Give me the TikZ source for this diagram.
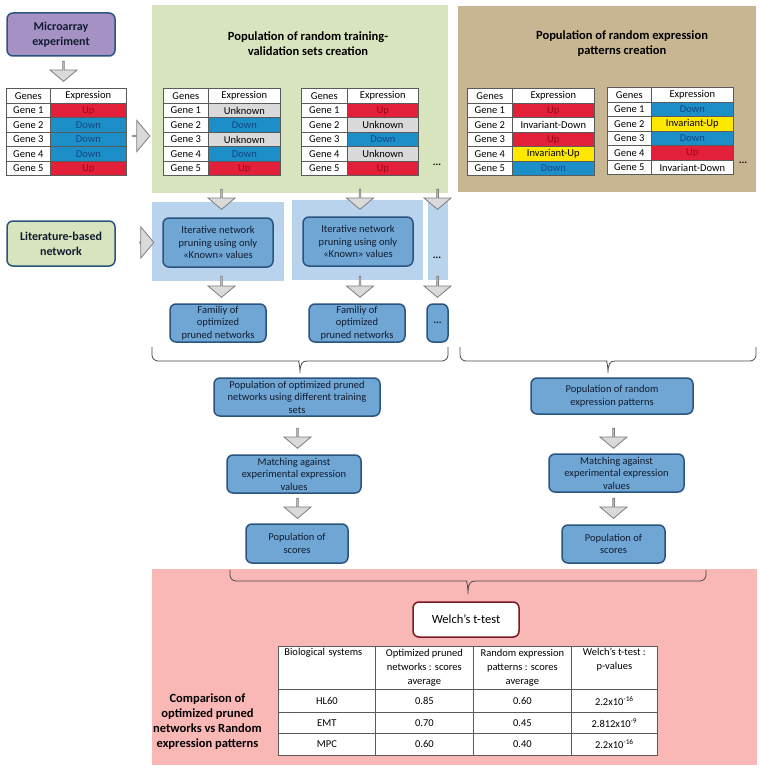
\documentclass[tikz,border=0pt]{standalone}
\usepackage{fontspec}
\setmainfont{Carlito}
\usetikzlibrary{shapes.arrows, calc}

\definecolor{boxblue}{RGB}{111,166,212}
\definecolor{boxline}{RGB}{42,84,128}
\definecolor{panelblue}{RGB}{186,211,236}
\definecolor{greenbg}{RGB}{215,228,190}
\definecolor{tanbg}{RGB}{200,181,145}
\definecolor{pinkbg}{RGB}{249,184,182}
\definecolor{purplebox}{RGB}{165,145,196}
\definecolor{upred}{RGB}{226,32,58}
\definecolor{uptext}{RGB}{150,10,25}
\definecolor{downblue}{RGB}{28,142,200}
\definecolor{downtext}{RGB}{22,70,130}
\definecolor{unkgray}{RGB}{218,218,218}
\definecolor{invyellow}{RGB}{255,232,0}
\definecolor{tabline}{RGB}{90,90,90}
\definecolor{arrowfill}{RGB}{218,218,218}
\definecolor{arrowline}{RGB}{125,125,125}
\definecolor{welchline}{RGB}{120,25,35}
\definecolor{bracegray}{RGB}{70,70,70}
\definecolor{boxtext}{RGB}{18,28,48}

% gene table: name, x, y, genes width, expression width, values
\newcommand{\genetable}[6]{%
  \node[tcell, minimum width=#4, minimum height=15pt] (#1-h1) at (#2,#3) {Genes};
  \node[tcell, minimum width=#5, minimum height=15pt] (#1-h2) at (#2+#4,#3) {Expression};
  \foreach \val [count=\i] in {#6} {
    \pgfmathsetmacro{\rowy}{#3+15+(\i-1)*14.5}
    \node[tcell, minimum width=#4] (#1-g\i) at (#2,\rowy) {Gene \i};
    \node[tcell, minimum width=#5, cell \val] (#1-e\i) at (#2+#4,\rowy) {\val};
  }
}

% brace opening upwards: left x, right x, top y, mid y, tip y
\newcommand{\upbrace}[5]{%
  \pgfmathsetmacro{\bm}{(#1+#2)/2}
  \draw[brc] (#1,#3) [rounded corners=6pt] -- (#1,#4) -- (\bm-7,#4) [sharp corners]
        .. controls (\bm-2,#4) and (\bm,#4+3) .. (\bm,#5)
        .. controls (\bm,#4+3) and (\bm+2,#4) .. (\bm+7,#4)
        [rounded corners=6pt] -- (#2,#4) -- (#2,#3);
}

\begin{document}
\begin{tikzpicture}[
    x=1pt, y=-1pt,
    every node/.style={inner sep=0pt, font=\fontsize{10.5}{12.5}\selectfont},
    stepbox/.style={draw=boxline, line width=1.5pt, fill=boxblue, rounded corners=6pt,
                    text=boxtext, align=center},
    startbox/.style={stepbox, font=\bfseries\fontsize{12}{15}\selectfont},
    titletext/.style={align=center, font=\bfseries\fontsize{12.5}{15}\selectfont},
    tcell/.style={draw=tabline, line width=0.6pt, fill=white, anchor=north west,
                  minimum height=14.5pt, inner sep=0pt},
    cell Up/.style={fill=upred, text=uptext},
    cell Down/.style={fill=downblue, text=downtext},
    cell Unknown/.style={fill=unkgray},
    cell Invariant-Up/.style={fill=invyellow},
    cell Invariant-Down/.style={},
    rcell/.style={draw=tabline, line width=0.7pt, fill=white, anchor=north west,
                  inner sep=0pt, font=\fontsize{10.5}{14.3}\selectfont},
    downarr/.style={single arrow, draw=arrowline, fill=arrowfill, line width=0.8pt,
                    minimum width=27pt, minimum height=20pt, single arrow head extend=6pt,
                    single arrow tip angle=100, shape border rotate=270, inner sep=0pt},
    rightarr/.style={downarr, shape border rotate=0, minimum width=31pt,
                     minimum height=17pt, single arrow head extend=7pt},
    brc/.style={draw=bracegray, line width=0.8pt},
]
\useasboundingbox (0,0) rectangle (760,770);

% ── Backgrounds ──────────────────────────────────────────────
\fill[greenbg] (152,5) rectangle (448,193);
\fill[tanbg] (458,6) rectangle (756,192);
\fill[pinkbg] (152,569) rectangle (757,765);
\fill[panelblue] (152,202) rectangle (284,281);
\fill[panelblue] (292,200) rectangle (423,280);
\fill[panelblue] (428,200) rectangle (448,280);

% ── Top row ──────────────────────────────────────────────────
\node[startbox, fill=purplebox, minimum width=108pt, minimum height=43pt] (micro) at (61,34.5) {Microarray\\experiment};
\node[titletext] (ttrain) at (308,43.5) {Population of random training-\\validation sets creation};
\node[titletext] (trand) at (622,43.5) {Population of random expression\\patterns creation};

\genetable{tobs}{6}{88}{44}{76}{Up,Down,Down,Down,Up}
\genetable{ttra}{163}{88}{45}{72}{Unknown,Down,Unknown,Down,Up}
\genetable{ttrb}{301}{88}{46}{71}{Up,Unknown,Down,Unknown,Up}
\genetable{trna}{467}{88}{45}{82}{Up,Invariant-Down,Up,Invariant-Up,Down}
\genetable{trnb}{607}{87}{44}{82}{Down,Invariant-Up,Down,Up,Invariant-Down}
\node (dtrain) at (437,165) {\textbf{...}};
\node (drand) at (743,163) {\textbf{...}};

\node[downarr] (a0) at (63.5,71) {};
\node[rightarr] (a1) at (141,136) {};

% ── Pruning ──────────────────────────────────────────────────
\node[startbox, fill=greenbg, minimum width=108pt, minimum height=45pt] (lit) at (61,243.5) {Literature-based\\network};
\node[rightarr, minimum height=14pt] (a2) at (146.5,242.5) {};

\node[stepbox, minimum width=110pt, minimum height=49pt] (itera) at (218,242.5) {Iterative network\\pruning using only\\«Known» values};
\node[stepbox, minimum width=110pt, minimum height=49pt] (iterb) at (358,241.5) {Iterative network\\pruning using only\\«Known» values};
\node (diter) at (437,258) {\textbf{...}};

\node[stepbox, minimum width=96pt, minimum height=38pt] (fama) at (218,323) {Familiy of\\optimized\\pruned networks};
\node[stepbox, minimum width=96pt, minimum height=38pt] (famb) at (357,323) {Familiy of\\optimized\\pruned networks};
\node[stepbox, minimum width=21pt, minimum height=38pt] (famc) at (437.5,323) {\textbf{...}};

\foreach \ax [count=\k] in {221.5, 360, 437.5} {
  \node[downarr] (ain\k) at (\ax,199) {};
  \node[downarr, minimum height=21pt] (aout\k) at (\ax,286.5) {};
}

% ── Braces ───────────────────────────────────────────────────
\upbrace{152}{448}{347}{361}{373}
\upbrace{460}{756}{347}{361}{373}

% ── Scoring columns ──────────────────────────────────────────
\node[stepbox, minimum width=166pt, minimum height=38pt] (popopt) at (297,397) {Population of optimized pruned\\networks using different training\\sets};
\node[stepbox, minimum width=134pt, minimum height=38pt] (matcha) at (294,474) {Matching against\\experimental expression\\values};
\node[stepbox, minimum width=102pt, minimum height=39pt] (scorea) at (297,543.5) {Population of\\scores};

\node[stepbox, minimum width=162pt, minimum height=36pt] (poprnd) at (612,396) {Population of random\\expression patterns};
\node[stepbox, minimum width=135pt, minimum height=38pt] (matchb) at (616.5,473) {Matching against\\experimental expression\\values};
\node[stepbox, minimum width=103pt, minimum height=38pt] (scoreb) at (613.5,544) {Population of\\scores};

\node[downarr] (b1) at (297.5,438) {};
\node[downarr] (b2) at (297.5,508) {};
\node[downarr] (b3) at (613.5,438) {};
\node[downarr] (b4) at (613.5,508) {};

% ── Comparison ───────────────────────────────────────────────
\upbrace{230}{706}{570}{581}{594}

\node[stepbox, fill=white, draw=welchline, text=black, font=\fontsize{12.5}{15}\selectfont,
      minimum width=106pt, minimum height=35pt] (welch) at (466,619.5) {Welch’s t-test};

\node[font=\bfseries\fontsize{12.5}{15}\selectfont, align=center] (cmp) at (207.5,722)
     {Comparison of\\optimized pruned\\networks vs Random\\expression patterns};

\node[rcell, minimum width=97pt, minimum height=43pt, text width=85pt, align=left] (bh1) at (278,646) {Biological systems\\\strut\\\strut};
\node[rcell, minimum width=98pt, minimum height=43pt, align=center] (bh2) at (375,646) {Optimized pruned\\networks : scores\\average};
\node[rcell, minimum width=98pt, minimum height=43pt, align=center] (bh3) at (473,646) {Random expression\\patterns : scores\\average};
\node[rcell, minimum width=86pt, minimum height=43pt, align=center] (bh4) at (571,646) {Welch’s t-test :\\p-values\\\strut};

\foreach \sys/\opt/\rnd/\pv/\ry/\rh [count=\rw] in
    {HL60/0.85/0.60/{2.2x10\textsuperscript{-16}}/689/23,
     EMT/0.70/0.45/{2.812x10\textsuperscript{-9}}/712/21,
     MPC/0.60/0.40/{2.2x10\textsuperscript{-16}}/733/22} {
  \node[rcell, minimum width=97pt, minimum height=\rh pt] (bs\rw) at (278,\ry) {\sys};
  \node[rcell, minimum width=98pt, minimum height=\rh pt] (bo\rw) at (375,\ry) {\opt};
  \node[rcell, minimum width=98pt, minimum height=\rh pt] (br\rw) at (473,\ry) {\rnd};
  \node[rcell, minimum width=86pt, minimum height=\rh pt] (bp\rw) at (571,\ry) {\pv};
}

\end{tikzpicture}
\end{document}
